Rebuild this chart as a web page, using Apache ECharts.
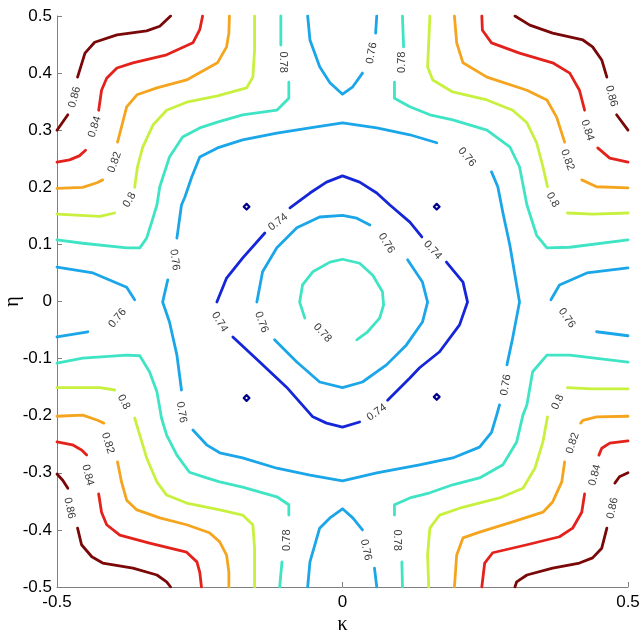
<!DOCTYPE html>
<html><head><meta charset="utf-8">
<script src="https://cdn.jsdelivr.net/npm/echarts@6/dist/echarts.min.js"></script>
<style>html,body{margin:0;padding:0;background:#fff}#c{width:643px;height:635px}</style>
</head><body><div id="c"></div>
<script>
// Axis ranges and ticks
const xRange = [-0.5, 0.5], xStep = 0.5;
const yRange = [-0.5, 0.5], yStep = 0.1;

// Contour levels
const levels = [0.72, 0.74, 0.76, 0.78, 0.8, 0.82, 0.84, 0.86];

// Contour polylines (kappa, eta), one array per level, split at label gaps
const c072 = [
  [[-0.173,0.166],[-0.168,0.171],[-0.163,0.166],[-0.168,0.161],[-0.173,0.166]],
  [[0.160,0.166],[0.165,0.171],[0.170,0.166],[0.165,0.161],[0.160,0.166]],
  [[-0.173,-0.169],[-0.168,-0.164],[-0.163,-0.169],[-0.168,-0.174],[-0.173,-0.169]],
  [[0.160,-0.167],[0.165,-0.162],[0.170,-0.167],[0.165,-0.172],[0.160,-0.167]]
];
const c074 = [
  [[-0.092,0.164],[-0.057,0.190],[-0.028,0.209],[0,0.220],[0.030,0.209],[0.060,0.190],[0.083,0.169],[0.118,0.139],[0.139,0.113]],
  [[0.182,0.069],[0.211,0.034],[0.219,-0.001],[0.205,-0.041],[0.170,-0.088],[0.135,-0.116],[0.118,-0.134],[0.079,-0.173]],
  [[0.030,-0.211],[0,-0.220],[-0.028,-0.213],[-0.052,-0.202],[-0.098,-0.150],[-0.145,-0.106],[-0.192,-0.062]],
  [[-0.220,-0.001],[-0.203,0.041],[-0.175,0.076],[-0.136,0.120]]
];
const c076 = [
  [[-0.290,0.111],[-0.282,0.169],[-0.276,0.183],[-0.264,0.218],[-0.250,0.253],[-0.219,0.269],[-0.175,0.283],[-0.115,0.295],[-0.057,0.304],[0,0.313],[0.060,0.304],[0.118,0.292],[0.165,0.278]],
  [[0.261,0.227],[0.272,0.201],[0.281,0.155],[0.293,0.099],[0.310,-0.001],[0.298,-0.064],[0.288,-0.111]],
  [[0.275,-0.181],[0.270,-0.199],[0.261,-0.229],[0.240,-0.255],[0.193,-0.274],[0.135,-0.286],[0.060,-0.300],[0,-0.314],[-0.057,-0.304],[-0.115,-0.292],[-0.175,-0.274],[-0.215,-0.265],[-0.238,-0.251],[-0.262,-0.225]],
  [[-0.282,-0.155],[-0.290,-0.094],[-0.303,-0.036],[-0.315,-0.001],[-0.306,0.038]],
  [[-0.061,0.5],[-0.057,0.458],[-0.040,0.411],[-0.022,0.383],[0,0.363],[0.018,0.376],[0.035,0.400]],
  [[0.058,0.470],[0.060,0.5]],
  [[-0.061,-0.5],[-0.057,-0.456],[-0.040,-0.397],[-0.022,-0.379],[0,-0.363],[0.018,-0.379],[0.035,-0.400]],
  [[0.056,-0.467],[0.060,-0.5]],
  [[-0.5,0.060],[-0.437,0.050],[-0.378,0.025],[-0.364,0.003]],
  [[-0.446,-0.053],[-0.5,-0.062]],
  [[0.5,0.059],[0.428,0.050],[0.380,0.029],[0.365,0.003]],
  [[0.445,-0.053],[0.5,-0.060]],
  [[0.048,0.134],[0.025,0.146],[0,0.151],[-0.040,0.148],[-0.080,0.129],[-0.115,0.094],[-0.140,0.052],[-0.150,-0.001]],
  [[-0.119,-0.067],[-0.080,-0.106],[-0.040,-0.141],[0,-0.151],[0.035,-0.141],[0.077,-0.111],[0.112,-0.076],[0.140,-0.036],[0.149,-0.001],[0.140,0.034],[0.114,0.073]]
];
const c078 = [
  [[-0.5,0.108],[-0.455,0.102],[-0.378,0.094],[-0.355,0.094],[-0.343,0.111],[-0.332,0.146],[-0.325,0.169],[-0.320,0.201],[-0.303,0.253],[-0.280,0.288],[-0.250,0.304],[-0.219,0.314],[-0.175,0.327],[-0.115,0.335],[-0.094,0.356],[-0.094,0.384]],
  [[-0.108,0.449],[-0.108,0.5]],
  [[0.105,0.5],[0.107,0.446]],
  [[0.091,0.384],[0.091,0.356],[0.118,0.341],[0.153,0.327],[0.193,0.318],[0.253,0.300],[0.293,0.271],[0.310,0.236],[0.323,0.169],[0.340,0.116],[0.358,0.094],[0.398,0.095],[0.5,0.108]],
  [[-0.5,-0.108],[-0.455,-0.099],[-0.378,-0.094],[-0.355,-0.095],[-0.338,-0.123],[-0.325,-0.158],[-0.317,-0.204],[-0.308,-0.234],[-0.290,-0.269],[-0.268,-0.299],[-0.238,-0.309],[-0.215,-0.316],[-0.175,-0.325],[-0.115,-0.342],[-0.094,-0.356],[-0.094,-0.374]],
  [[-0.106,-0.456],[-0.110,-0.5]],
  [[0.5,-0.106],[0.398,-0.094],[0.358,-0.094],[0.333,-0.123],[0.323,-0.181],[0.316,-0.199],[0.305,-0.246],[0.281,-0.286],[0.240,-0.309],[0.193,-0.321],[0.153,-0.335],[0.118,-0.344],[0.091,-0.356],[0.091,-0.374]],
  [[0.104,-0.456],[0.105,-0.5]],
  [[-0.066,-0.029],[-0.075,-0.001],[-0.070,0.029],[-0.052,0.052],[-0.022,0.069],[0,0.074],[0.030,0.067],[0.053,0.046],[0.070,0.017],[0.072,-0.006],[0.065,-0.029],[0.044,-0.053],[0.025,-0.067]]
];
const c080 = [
  [[-0.5,0.153],[-0.425,0.149],[-0.399,0.155]],
  [[-0.364,0.200],[-0.359,0.236],[-0.350,0.270],[-0.332,0.309],[-0.308,0.335],[-0.273,0.349],[-0.219,0.360],[-0.168,0.374],[-0.157,0.393],[-0.154,0.440],[-0.154,0.5]],
  [[0.153,0.5],[0.151,0.453],[0.149,0.411],[0.158,0.388],[0.193,0.367],[0.253,0.353],[0.298,0.335],[0.323,0.313],[0.340,0.278],[0.351,0.236],[0.359,0.201]],
  [[0.394,0.155],[0.438,0.153],[0.5,0.155]],
  [[-0.5,-0.151],[-0.425,-0.151],[-0.399,-0.155]],
  [[-0.364,-0.204],[-0.355,-0.234],[-0.343,-0.274],[-0.325,-0.316],[-0.308,-0.339],[-0.273,-0.353],[-0.215,-0.365],[-0.175,-0.374],[-0.157,-0.391],[-0.154,-0.432],[-0.154,-0.5]],
  [[0.5,-0.153],[0.438,-0.153],[0.394,-0.151]],
  [[0.359,-0.202],[0.351,-0.246],[0.337,-0.292],[0.316,-0.327],[0.275,-0.344],[0.205,-0.362],[0.170,-0.374],[0.153,-0.397],[0.149,-0.444],[0.151,-0.5]]
];
const c082 = [
  [[-0.5,0.198],[-0.455,0.200],[-0.430,0.208],[-0.420,0.213]],
  [[-0.394,0.279],[-0.387,0.306],[-0.378,0.341],[-0.360,0.362],[-0.325,0.374],[-0.273,0.388],[-0.219,0.418],[-0.203,0.446],[-0.199,0.470],[-0.198,0.5]],
  [[0.196,0.5],[0.200,0.453],[0.211,0.418],[0.253,0.393],[0.323,0.370],[0.358,0.353],[0.375,0.323],[0.389,0.279]],
  [[0.419,0.213],[0.445,0.201],[0.5,0.199]],
  [[-0.5,-0.201],[-0.455,-0.199],[-0.429,-0.208],[-0.418,-0.213]],
  [[-0.394,-0.281],[-0.387,-0.316],[-0.378,-0.348],[-0.360,-0.365],[-0.320,-0.379],[-0.273,-0.391],[-0.233,-0.405],[-0.215,-0.421],[-0.203,-0.444],[-0.199,-0.474],[-0.199,-0.5]],
  [[0.5,-0.201],[0.445,-0.202],[0.421,-0.208],[0.417,-0.213]],
  [[0.389,-0.281],[0.384,-0.316],[0.368,-0.351],[0.351,-0.369],[0.298,-0.386],[0.240,-0.404],[0.211,-0.414],[0.200,-0.444],[0.196,-0.5]]
];
const c084 = [
  [[-0.5,0.244],[-0.478,0.248],[-0.461,0.255],[-0.450,0.265]],
  [[-0.427,0.335],[-0.422,0.370],[-0.413,0.391],[-0.395,0.409],[-0.367,0.418],[-0.308,0.432],[-0.262,0.453],[-0.250,0.476],[-0.245,0.5]],
  [[0.244,0.5],[0.245,0.475],[0.261,0.453],[0.310,0.435],[0.368,0.418],[0.398,0.400],[0.415,0.370],[0.424,0.335]],
  [[0.447,0.269],[0.468,0.251],[0.5,0.244]],
  [[-0.5,-0.246],[-0.473,-0.251],[-0.457,-0.260],[-0.448,-0.269]],
  [[-0.427,-0.337],[-0.422,-0.369],[-0.413,-0.391],[-0.390,-0.409],[-0.338,-0.423],[-0.273,-0.439],[-0.255,-0.456],[-0.250,-0.474],[-0.247,-0.5]],
  [[0.5,-0.244],[0.468,-0.248],[0.454,-0.257],[0.449,-0.269]],
  [[0.424,-0.337],[0.419,-0.369],[0.403,-0.397],[0.380,-0.412],[0.323,-0.426],[0.263,-0.440],[0.249,-0.458],[0.244,-0.5]]
];
const c086 = [
  [[-0.5,0.300],[-0.481,0.327]],
  [[-0.464,0.393],[-0.451,0.435],[-0.434,0.454],[-0.395,0.467],[-0.343,0.474],[-0.320,0.482],[-0.301,0.5]],
  [[0.302,0.5],[0.328,0.484],[0.368,0.470],[0.421,0.458],[0.438,0.446],[0.454,0.423],[0.463,0.393]],
  [[0.480,0.327],[0.5,0.300]],
  [[-0.5,-0.302],[-0.490,-0.313],[-0.481,-0.327]],
  [[-0.464,-0.397],[-0.457,-0.426],[-0.439,-0.447],[-0.420,-0.458],[-0.367,-0.467],[-0.325,-0.479],[-0.308,-0.491],[-0.301,-0.5]],
  [[0.5,-0.300],[0.485,-0.307],[0.477,-0.318]],
  [[0.463,-0.397],[0.454,-0.432],[0.438,-0.449],[0.415,-0.458],[0.368,-0.467],[0.323,-0.479],[0.305,-0.491],[0.302,-0.5]]
];
const contourSets = [c072, c074, c076, c078, c080, c082, c084, c086];

// Inline contour labels: [kappa, eta, text, angle]
const contourLabels = [
  [-0.469,0.358,'0.86',75],[0.471,0.360,'0.86',-75],[-0.478,-0.362,'0.86',-78],[0.473,-0.362,'0.86',78],
  [-0.434,0.306,'0.84',72],[0.429,0.300,'0.84',-72],[-0.446,-0.304,'0.84',-75],[0.442,-0.304,'0.84',75],
  [-0.399,0.244,'0.82',70],[0.394,0.248,'0.82',-70],[-0.411,-0.248,'0.82',-72],[0.403,-0.248,'0.82',72],
  [-0.373,0.178,'0.8',60],[0.368,0.178,'0.8',-60],[-0.383,-0.176,'0.8',-62],[0.377,-0.176,'0.8',65],
  [-0.105,0.419,'0.78',-90],[0.104,0.419,'0.78',90],[-0.098,-0.418,'0.78',90],[0.095,-0.418,'0.78',-90],
  [-0.035,-0.055,'0.78',-48],
  [0.218,0.253,'0.76',-50],[0.286,-0.146,'0.76',80],[-0.282,-0.194,'0.76',-80],[-0.294,0.073,'0.76',-82],
  [0.051,0.435,'0.76',80],[0.041,-0.435,'0.76',-78],[-0.394,-0.029,'0.76',50],[0.393,-0.029,'0.76',-55],
  [-0.142,-0.036,'0.76',-70],[0.077,0.102,'0.76',-58],
  [0.158,0.090,'0.74',-48],[0.060,-0.194,'0.74',35],[-0.215,-0.036,'0.74',-58],[-0.113,0.139,'0.74',38]
];

const levelColors = ['#00008f','#1426d8','#1aa6e8','#3fe4c4','#c8f03e','#f5a41e','#e4221c','#7a0808'];

const series = [];
contourSets.forEach((segs, i) => {
  segs.forEach(seg => series.push({
    type: 'line', data: seg, showSymbol: false, symbol: 'none', smooth: false,
    lineStyle: { color: levelColors[i], width: i === 0 ? 2.2 : 2.8, join: 'round', cap: 'round' },
    silent: true, z: 2, name: String(levels[i])
  }));
});
series.push({
  type: 'scatter', symbolSize: 1, itemStyle: { color: 'rgba(0,0,0,0)' }, silent: true, z: 5,
  data: contourLabels.map(l => ({ value: [l[0], l[1]], name: l[2], label: { rotate: l[3] } })),
  label: { show: true, formatter: '{b}', position: 'inside', color: '#000', fontSize: 11, fontFamily: 'Liberation Sans' }
});

const axisCommon = {
  type: 'value',
  axisLine: { show: true, onZero: false, lineStyle: { color: '#808080', width: 1 } },
  axisTick: { show: true, inside: true, length: 5, lineStyle: { color: '#808080' } },
  splitLine: { show: false },
  axisLabel: { color: '#000', fontSize: 17, fontFamily: 'Liberation Sans' },
  nameLocation: 'middle',
  nameMoveOverlap: false,
  nameTextStyle: { color: '#000', fontSize: 20, fontFamily: 'Liberation Serif' }
};

const chart = echarts.init(document.getElementById('c'), null, { renderer: 'canvas' });
chart.setOption({
  animation: false,
  backgroundColor: '#fff',
  grid: { left: 57, top: 16, width: 571, height: 571, containLabel: false, outerBoundsMode: 'none' },
  xAxis: Object.assign({}, axisCommon, {
    min: xRange[0], max: xRange[1], interval: xStep, name: 'κ', nameGap: 28,
    axisLabel: Object.assign({}, axisCommon.axisLabel, { margin: 7 })
  }),
  yAxis: Object.assign({}, axisCommon, {
    min: yRange[0], max: yRange[1], interval: yStep, name: 'η', nameGap: 34,
    axisLabel: Object.assign({}, axisCommon.axisLabel, { margin: 5 })
  }),
  series: series
});
</script></body></html>
